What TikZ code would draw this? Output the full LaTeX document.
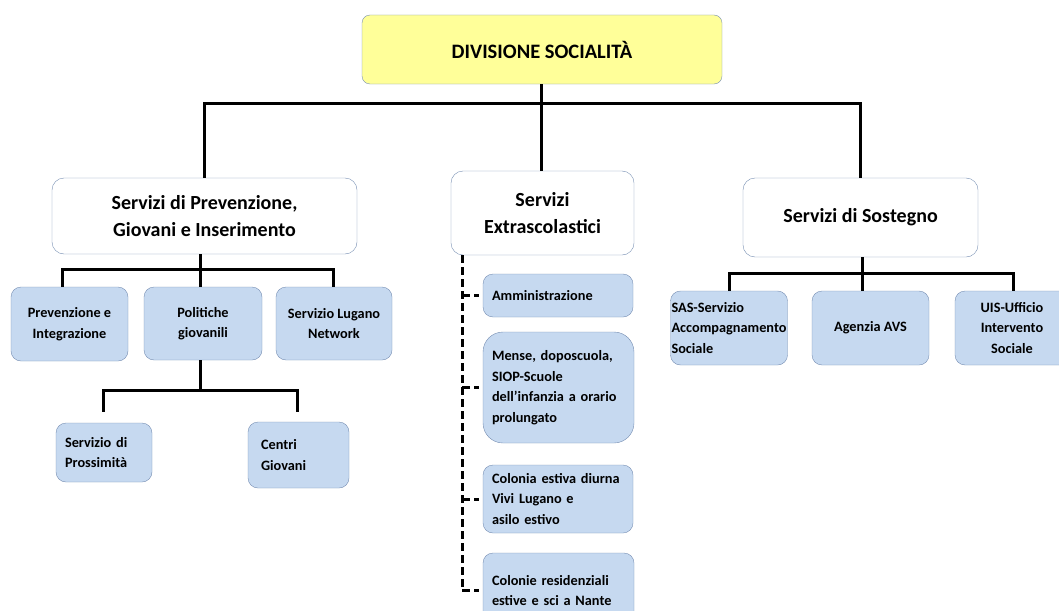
\documentclass[tikz,border=0pt]{standalone}
\usepackage{fontspec}
\setmainfont{Carlito}
\usepackage{xcolor}
\usetikzlibrary{positioning}
\definecolor{rootyellow}{RGB}{255,255,153}
\definecolor{unitblue}{RGB}{198,217,240}
\definecolor{boxedge}{RGB}{118,142,178}

\begin{document}
\begin{tikzpicture}[x=1pt,y=-1pt,
	rootbox/.style={draw=boxedge, fill=rootyellow, rounded corners=8pt, minimum width=360pt, minimum height=69pt, font=\bfseries\fontsize{20.5}{24}\selectfont},
	headbox/.style={draw=boxedge, fill=white, rounded corners=12pt, align=center, font=\bfseries\fontsize{20}{27}\selectfont},
	unitbox/.style={draw=boxedge, fill=unitblue, rounded corners=10pt, align=center, font=\bfseries\fontsize{14.3}{20.5}\selectfont},
	leftbox/.style={unitbox, align=left, inner ysep=0pt},
	conn/.style={line width=3pt},
	dconn/.style={line width=3pt, dash pattern=on 8pt off 4pt}]
	
	\useasboundingbox (0,0) rectangle (1059,610);
	\clip (0,0) rectangle (1059,610);
	
	% division and the three services
	\node [rootbox] (root) at (542,49.5) {DIVISIONE SOCIALITÀ};
	\node [headbox, minimum width=305pt, minimum height=76pt] (prevgio) at (204.5,216) {Servizi di Prevenzione,\\Giovani e Inserimento};
	\node [headbox, minimum width=183pt, minimum height=84pt] (extra) at (542.5,213) {Servizi\\Extrascolastici};
	\node [headbox, minimum width=235pt, minimum height=79pt] (sostegno) at (860.5,217.5) {Servizi di Sostegno};
	
	% prevenzione, giovani e inserimento
	\node [unitbox, minimum width=117pt, minimum height=74pt] (prev) at (69.5,324) {Prevenzione e\\Integrazione};
	\node [unitbox, minimum width=118pt, minimum height=73pt] (pol) at (203,323.5) {Politiche\\giovanili};
	\node [unitbox, minimum width=116pt, minimum height=73pt] (lug) at (334,323.5) {Servizio Lugano\\Network};
	\node [leftbox, text width=78pt, inner xsep=9pt, minimum height=59pt] (pross) at (104,452.5) {Servizio di\\Prossimità};
	\node [leftbox, text width=75pt, inner xsep=13pt, minimum height=66pt] (centri) at (298.5,455) {Centri\\Giovani};
	
	% extrascolastici
	\node [leftbox, text width=132pt, inner xsep=9pt, minimum height=43pt] (amm) at (558,295.5) {Amministrazione};
	\node [leftbox, text width=133pt, inner xsep=9pt, minimum height=111pt, rounded corners=20pt] (mense) at (558.5,387.5) {Mense, doposcuola,\\SIOP-Scuole\\dell’infanzia a orario\\prolungato};
	\node [leftbox, text width=132pt, inner xsep=9pt, minimum height=68pt] (colonia) at (558,499) {Colonia estiva diurna\\Vivi Lugano e\\asilo estivo};
	\node [leftbox, text width=133pt, inner xsep=9pt, minimum height=75pt] (nante) at (558.5,590.5) {Colonie residenziali\\estive e sci a Nante};
	
	% sostegno
	\node [leftbox, inner xsep=1pt, minimum width=116pt, minimum height=74pt] (sas) at (729,328) {SAS-Servizio\\Accompagnamento\\Sociale};
	\node [unitbox, minimum width=117pt, minimum height=74pt] (avs) at (870.5,328) {Agenzia AVS};
	\node [unitbox, minimum width=114pt, minimum height=74pt] (uis) at (1012,328) {UIS-Ufficio\\Intervento\\Sociale};
	
	% connectors
	\coordinate (top) at (541,103);
	\draw [conn] (root.south -| top) -- (top);
	\draw [conn] (prevgio.north) |- (top) -| (sostegno.north);
	\draw [conn] (top) -- (extra.north -| top);
	
	\coordinate (pl) at (62,269);
	\coordinate (pm) at (200,269);
	\coordinate (pr) at (333,269);
	\draw [conn] (prevgio.south -| pm) -- (pm);
	\draw [conn] (prev.north -| pl) -- (pl) -- (pr) -- (lug.north -| pr);
	\draw [conn] (pm) -- (pol.north -| pm);
	
	\coordinate (ql) at (103,390);
	\coordinate (qm) at (200,390);
	\coordinate (qr) at (297,390);
	\draw [conn] (pol.south -| qm) -- (qm);
	\draw [conn, shorten <=11pt, shorten >=10pt] (pross.north -| ql) -- (ql) -- (qr) -- (centri.north -| qr);
	
	\coordinate (rl) at (729,273);
	\coordinate (rm) at (862,273);
	\coordinate (rr) at (1013,273);
	\draw [conn] (sostegno.south -| rm) -- (rm);
	\draw [conn] (sas.north -| rl) -- (rl) -- (rr) -- (uis.north -| rr);
	\draw [conn] (rm) -- (avs.north -| rm);
	
	\coordinate (dx) at (462,255);
	\draw [dconn] (extra.south -| dx) -- (nante.west -| dx);
	\foreach \n in {amm,mense,colonia,nante}
		\draw [dconn, shorten >=4pt] (\n.west -| dx) -- (\n.west);
	
\end{tikzpicture}
\end{document}
